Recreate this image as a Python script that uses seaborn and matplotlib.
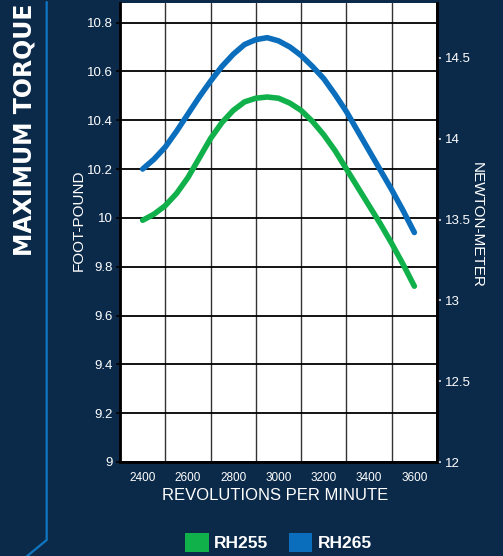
import numpy as np
import pandas as pd
import matplotlib
matplotlib.use("Agg")
import matplotlib.pyplot as plt
from matplotlib.lines import Line2D
from matplotlib.patches import Patch
import seaborn as sns

# ---- data (every 50 rpm) ----
rpm = [2400, 2450, 2500, 2550, 2600, 2650, 2700, 2750, 2800, 2850, 2900, 2950, 3000,
       3050, 3100, 3150, 3200, 3250, 3300, 3350, 3400, 3450, 3500, 3550, 3600]
rh255 = [9.99, 10.015, 10.05, 10.10, 10.165, 10.245, 10.325, 10.39, 10.44, 10.475, 10.49, 10.495, 10.49,
         10.47, 10.44, 10.395, 10.34, 10.275, 10.20, 10.125, 10.05, 9.975, 9.895, 9.81, 9.72]
rh265 = [10.20, 10.24, 10.29, 10.355, 10.425, 10.495, 10.56, 10.62, 10.67, 10.71, 10.73, 10.738, 10.725,
         10.70, 10.665, 10.62, 10.57, 10.505, 10.435, 10.355, 10.275, 10.195, 10.115, 10.03, 9.94]
series_names = ["RH255", "RH265"]
x_tick_labels = ["2400", "2600", "2800", "3000", "3200", "3400", "3600"]
left_ticks = [9, 9.2, 9.4, 9.6, 9.8, 10, 10.2, 10.4, 10.6, 10.8]
left_tick_labels = ["9", "9.2", "9.4", "9.6", "9.8", "10", "10.2", "10.4", "10.6", "10.8"]
right_ticks = [12, 12.5, 13, 13.5, 14, 14.5]
right_tick_labels = ["12", "12.5", "13", "13.5", "14", "14.5"]

NAVY = "#0b2a4a"
GREEN = "#10b04a"
BLUE = "#0a6ebd"
LINEBLUE = "#1176c2"

df = pd.DataFrame({
    "rpm": rpm * 2,
    "torque": rh255 + rh265,
    "model": [series_names[0]] * len(rpm) + [series_names[1]] * len(rpm),
})

sns.set_theme(style="white")
plt.rcParams["font.family"] = ["Liberation Sans", "DejaVu Sans"]

fig = plt.figure(figsize=(5.03, 5.56), dpi=100, facecolor=NAVY)
ax = fig.add_axes([120 / 503, 1 - 462 / 556, (437 - 120) / 503, (462 - 3) / 556])
ax.set_facecolor("white")

sns.lineplot(data=df, x="rpm", y="torque", hue="model",
             palette={series_names[0]: GREEN, series_names[1]: BLUE},
             linewidth=4.0, legend=False, ax=ax, zorder=3)
for ln in ax.lines:
    ln.set_solid_capstyle("round")
    ln.set_solid_joinstyle("round")

ax.set_xlim(2300, 3700)
ax.set_ylim(9, 10.88)

# x axis: labels at 2400.., gridlines/ticks at 2300,2500,..
ax.set_xticks([int(v) for v in x_tick_labels])
ax.set_xticklabels(x_tick_labels)
ax.set_xticks(np.arange(2300, 3701, 200), minor=True)
ax.tick_params(axis="x", which="major", length=0, pad=7.5, labelsize=8.5, labelcolor="white")
ax.tick_params(axis="x", which="minor", length=3.5, width=1.5, color="black", direction="out")
ax.grid(False)
ax.xaxis.grid(True, which="minor", color="#333333", linewidth=1.0)
ax.set_yticks(left_ticks)
ax.set_yticklabels(left_tick_labels)
ax.yaxis.grid(True, which="major", color="black", linewidth=1.3)
ax.tick_params(axis="y", which="major", length=3, width=1.2, color="black", pad=2,
               labelsize=9.5, labelcolor="white", left=True, direction="out")
ax.set_xlabel("")
ax.set_ylabel("")
for side in ["left", "right", "bottom"]:
    ax.spines[side].set_visible(True)
    ax.spines[side].set_color("black")
    ax.spines[side].set_linewidth(2)
ax.spines["top"].set_visible(False)

ax2 = ax.twinx()
ax2.set_ylim(12, 14.84)
ax2.set_yticks(right_ticks)
ax2.set_yticklabels(right_tick_labels)
ax2.tick_params(axis="y", length=3, width=1.2, color="#dddddd", pad=3, labelsize=9.5,
                labelcolor="white", right=True, direction="out")
ax2.grid(False)
for side in ax2.spines:
    ax2.spines[side].set_visible(False)
ax2.spines["right"].set_visible(True)
ax2.spines["right"].set_color("black")
ax2.spines["right"].set_linewidth(2)

# axis titles
fig.text(275.5 / 503, 1 - 496 / 556, "REVOLUTIONS PER MINUTE", color="white",
         fontsize=12, ha="center", va="center")
fig.text(79 / 503, 1 - 220 / 556, "FOOT-POUND", color="white", fontsize=11,
         rotation=90, ha="center", va="center")
fig.text(477 / 503, 1 - 225 / 556, "NEWTON-METER", color="white", fontsize=11,
         rotation=-90, ha="center", va="center")

# side title
fig.text(25 / 503, 1 - 130 / 556, "MAXIMUM TORQUE", color="white", fontsize=17,
         fontweight="bold", family="DejaVu Sans", rotation=90, ha="center", va="center")

# decorative line
deco = Line2D([46.7 / 503, 46.7 / 503, 26 / 503], [1 - 2 / 556, 1 - 540 / 556, 1 - 557 / 556],
              transform=fig.transFigure, color=LINEBLUE, linewidth=1.6)
fig.add_artist(deco)

# legend
handles = [Patch(facecolor=GREEN, edgecolor="none", label=series_names[0]),
           Patch(facecolor=BLUE, edgecolor="none", label=series_names[1])]
leg = fig.legend(handles=handles, loc="center", bbox_to_anchor=(278.5 / 503, 1 - 542.5 / 556),
                 ncol=2, frameon=False, handlelength=1.35, handleheight=1.3,
                 handletextpad=0.3, columnspacing=1.2,
                 prop={"size": 12.5, "weight": "bold"})
for t in leg.get_texts():
    t.set_color("white")

fig.savefig("out.png", dpi=100, facecolor=NAVY)
